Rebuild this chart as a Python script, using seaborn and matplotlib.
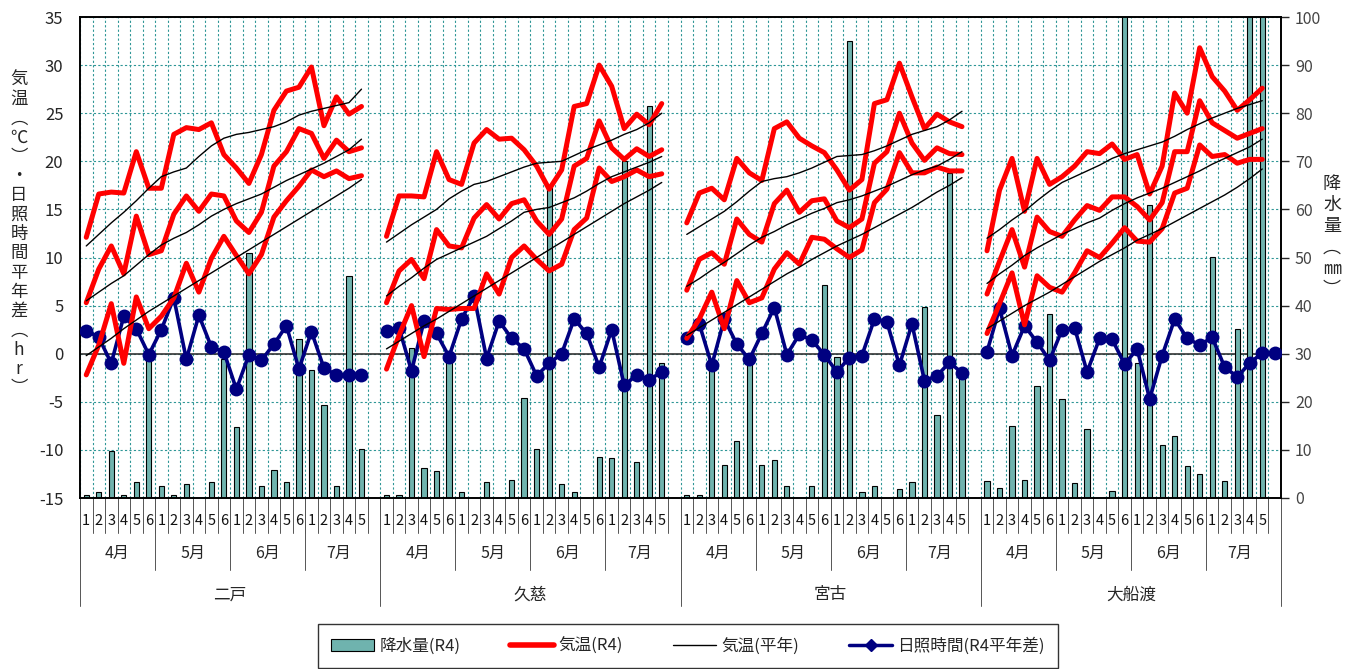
import numpy as np
import pandas as pd
import matplotlib
matplotlib.use("Agg")
import matplotlib.pyplot as plt
import matplotlib.transforms as mtransforms
from matplotlib.lines import Line2D
from matplotlib.patches import Patch
import seaborn as sns

# ============================================================
# DATA
# ============================================================

stations = ["二戸", "久慈", "宮古", "大船渡"]
months = ["4月", "5月", "6月", "7月"]
pentad_labels = ["1", "2", "3", "4", "5", "6"] * 3 + ["1", "2", "3", "4", "5"]

# 二戸
ninohe_max = [12.1, 16.6, 16.8, 16.7, 21.0, 17.2, 17.2, 22.8, 23.5, 23.3, 24.0, 20.7,
              19.3, 17.7, 20.7, 25.3, 27.3, 27.7, 29.8, 23.7, 26.7, 24.9, 25.7]
ninohe_mean = [5.3, 8.8, 11.2, 8.3, 14.3, 10.3, 10.7, 14.5, 16.4, 14.8, 16.6, 16.4,
               13.8, 12.6, 14.7, 19.5, 21.0, 23.4, 22.9, 20.3, 22.2, 21.0, 21.4]
ninohe_min = [-2.2, 0.9, 5.2, -1.0, 5.9, 2.6, 3.9, 5.8, 9.4, 6.4, 9.9, 12.2,
              10.2, 8.3, 10.3, 14.2, 15.9, 17.4, 19.1, 18.4, 19.0, 18.2, 18.5]
ninohe_nmax = [11.2, 12.4, 13.6, 14.7, 15.9, 17.2, 18.4, 18.9, 19.3, 20.5, 21.6, 22.4,
               22.8, 23.0, 23.3, 23.6, 24.1, 24.8, 25.2, 25.5, 25.8, 26.1, 27.5]
ninohe_nmean = [5.5, 6.4, 7.3, 8.1, 9.2, 10.3, 11.3, 12.0, 12.6, 13.4, 14.3, 15.0,
                15.6, 16.1, 16.6, 17.3, 18.0, 18.6, 19.2, 19.8, 20.5, 21.2, 22.3]
ninohe_nmin = [-0.2, 0.7, 1.6, 2.6, 3.5, 4.4, 5.2, 6.0, 6.8, 7.6, 8.4, 9.2,
               10.0, 10.8, 11.6, 12.4, 13.2, 14.0, 14.8, 15.6, 16.4, 17.2, 18.1]
ninohe_sun = [2.4, 1.7, -1.0, 3.9, 2.6, -0.1, 2.5, 5.8, -0.6, 4.0, 0.7, 0.2,
              -3.7, -0.1, -0.7, 1.0, 2.9, -1.6, 2.3, -1.5, -2.2, -2.2, -2.2]
ninohe_rain = [0.7, 1.2, 9.7, 0.7, 3.4, 30.0, 2.4, 0.7, 2.9, 0.0, 3.4, 29.0,
               14.8, 51.0, 2.4, 5.8, 3.4, 33.0, 26.6, 19.4, 2.4, 46.2, 10.2]

# 久慈
kuji_max = [12.2, 16.4, 16.4, 16.3, 21.0, 18.1, 17.6, 21.9, 23.3, 22.3, 22.4, 21.2,
            19.5, 17.1, 19.1, 25.7, 26.0, 30.0, 27.8, 23.4, 24.9, 23.8, 26.0]
kuji_mean = [5.3, 8.6, 9.8, 7.8, 12.9, 11.2, 11.0, 14.1, 15.5, 14.0, 15.6, 16.0,
             13.8, 12.4, 14.0, 19.5, 20.3, 24.2, 21.4, 20.2, 21.3, 20.5, 21.2]
kuji_min = [-1.6, 1.9, 5.0, -0.3, 4.7, 4.6, 4.7, 4.7, 8.3, 6.2, 10.0, 11.2,
            9.8, 8.6, 9.3, 12.9, 14.1, 19.3, 17.9, 18.4, 19.1, 18.4, 18.7]
kuji_nmax = [11.6, 12.5, 13.4, 14.2, 15.0, 16.1, 16.9, 17.6, 17.9, 18.4, 18.9, 19.4,
             19.8, 19.9, 20.0, 20.6, 21.2, 21.7, 22.2, 22.8, 23.3, 24.0, 25.0]
kuji_nmean = [6.0, 7.0, 7.9, 8.9, 9.8, 10.4, 11.0, 11.6, 12.2, 13.0, 13.8, 14.7,
              15.0, 15.2, 15.7, 16.2, 16.9, 17.7, 18.4, 18.9, 19.4, 19.9, 20.5]
kuji_nmin = [0.5, 1.3, 2.1, 2.9, 3.6, 4.4, 5.2, 6.0, 6.8, 7.6, 8.4, 9.2,
             10.0, 10.8, 11.6, 12.4, 13.2, 14.0, 14.8, 15.6, 16.3, 17.0, 17.8]
kuji_sun = [2.4, 2.7, -1.8, 3.4, 2.1, -0.3, 3.6, 6.0, -0.5, 3.4, 1.6, 0.5,
            -2.3, -1.0, 0.0, 3.6, 2.1, -1.4, 2.5, -3.3, -2.2, -2.7, -1.9]
kuji_rain = [0.7, 0.7, 31.2, 6.3, 5.7, 30.0, 1.2, 0.0, 3.4, 0.0, 3.8, 20.7,
             10.2, 65.0, 2.9, 1.2, 0.0, 8.6, 8.3, 70.0, 7.5, 81.4, 28.0]

# 宮古
miyako_max = [13.6, 16.7, 17.2, 16.0, 20.3, 18.8, 18.0, 23.4, 24.1, 22.4, 21.6, 20.9,
              19.1, 17.0, 18.1, 26.0, 26.4, 30.2, 26.7, 23.4, 24.9, 24.1, 23.6]
miyako_mean = [6.6, 9.8, 10.5, 9.3, 14.0, 12.4, 11.6, 15.6, 17.0, 14.7, 15.9, 16.1,
               13.8, 13.1, 14.0, 19.8, 21.0, 25.0, 21.9, 20.1, 21.4, 20.8, 20.7]
miyako_min = [1.6, 3.6, 6.4, 2.6, 7.6, 5.3, 5.8, 8.8, 10.5, 9.3, 12.1, 11.9,
              10.9, 10.0, 10.8, 15.7, 17.1, 20.9, 18.8, 18.8, 19.4, 19.0, 19.0]
miyako_nmax = [12.4, 13.2, 14.0, 14.8, 15.8, 16.9, 17.9, 18.2, 18.4, 18.8, 19.3, 19.9,
               20.5, 20.6, 20.7, 21.1, 21.6, 22.2, 22.8, 23.2, 23.6, 24.3, 25.2]
miyako_nmean = [7.0, 7.8, 8.7, 9.5, 10.4, 11.3, 12.1, 12.7, 13.4, 14.0, 14.6, 15.1,
                15.7, 16.0, 16.4, 16.9, 17.4, 18.0, 18.6, 19.1, 19.5, 20.2, 21.0]
miyako_nmin = [1.9, 2.7, 3.5, 4.3, 5.1, 5.9, 6.7, 7.5, 8.3, 9.0, 9.8, 10.5,
               11.2, 11.8, 12.4, 13.1, 13.8, 14.5, 15.2, 16.0, 16.8, 17.5, 18.3]
miyako_sun = [1.6, 3.1, -1.2, 3.6, 1.0, -0.6, 2.1, 4.8, -0.1, 2.0, 1.4, -0.1,
              -1.9, -0.4, -0.2, 3.6, 3.3, -1.2, 3.1, -2.8, -2.3, -0.9, -2.0]
miyako_rain = [0.7, 0.7, 28.0, 6.9, 11.8, 28.6, 6.9, 7.8, 2.4, 0.0, 2.4, 44.3,
               29.3, 95.0, 1.2, 2.4, 0.0, 1.9, 3.4, 39.7, 17.2, 67.6, 25.5]

# 大船渡 (sunshine has one extra point at the end, as in the source chart)
ofunato_max = [10.7, 17.0, 20.3, 14.8, 20.3, 17.6, 18.4, 19.5, 21.0, 20.8, 21.8, 20.2,
               20.7, 16.6, 19.5, 27.1, 25.0, 31.8, 28.8, 27.3, 25.3, 26.4, 27.6]
ofunato_mean = [6.2, 9.6, 12.9, 9.0, 14.2, 12.7, 12.2, 13.9, 15.4, 14.9, 16.3, 16.3,
                15.3, 13.9, 15.7, 21.0, 21.0, 26.3, 24.0, 23.2, 22.4, 22.9, 23.4]
ofunato_min = [2.1, 5.2, 8.4, 3.0, 8.1, 6.9, 6.4, 8.4, 10.7, 10.0, 11.5, 13.1,
               11.7, 11.6, 13.0, 16.7, 17.2, 21.7, 20.5, 20.7, 19.8, 20.2, 20.2]
ofunato_nmax = [12.0, 12.9, 13.9, 14.8, 15.9, 16.9, 17.8, 18.4, 19.0, 19.6, 20.3, 20.8,
                21.2, 21.6, 22.0, 22.6, 23.3, 23.9, 24.5, 25.0, 25.5, 25.9, 26.3]
ofunato_nmean = [7.3, 8.3, 9.2, 10.2, 11.0, 11.7, 12.4, 13.0, 13.6, 14.1, 14.9, 15.6,
                 16.2, 16.7, 17.2, 17.8, 18.4, 19.0, 19.7, 20.3, 20.9, 21.5, 22.3]
ofunato_nmin = [2.6, 3.4, 4.2, 5.0, 5.7, 6.4, 7.2, 8.0, 8.8, 9.6, 10.3, 11.0,
                11.8, 12.4, 13.0, 13.7, 14.4, 15.1, 15.8, 16.5, 17.3, 18.2, 19.2]
ofunato_sun = [0.2, 4.7, -0.2, 2.9, 1.2, -0.7, 2.5, 2.7, -1.9, 1.6, 1.5, -1.1,
               0.5, -4.7, -0.2, 3.6, 1.6, 0.9, 1.7, -1.4, -2.4, -1.0, 0.1, 0.1]
ofunato_rain = [3.5, 2.1, 14.9, 3.8, 23.3, 38.2, 20.5, 3.1, 14.4, 0.0, 1.4, 120.0,
                28.0, 61.0, 11.1, 12.8, 6.6, 4.9, 50.2, 3.5, 35.1, 120.0, 120.0]

temp_max = [ninohe_max, kuji_max, miyako_max, ofunato_max]
temp_mean = [ninohe_mean, kuji_mean, miyako_mean, ofunato_mean]
temp_min = [ninohe_min, kuji_min, miyako_min, ofunato_min]
norm_max = [ninohe_nmax, kuji_nmax, miyako_nmax, ofunato_nmax]
norm_mean = [ninohe_nmean, kuji_nmean, miyako_nmean, ofunato_nmean]
norm_min = [ninohe_nmin, kuji_nmin, miyako_nmin, ofunato_nmin]
sunshine = [ninohe_sun, kuji_sun, miyako_sun, ofunato_sun]
rain = [ninohe_rain, kuji_rain, miyako_rain, ofunato_rain]

SLOT = 24  # 23 pentads + 1 empty column per station

# ============================================================
# SETUP
# ============================================================

sns.set_theme(style="white")
plt.rcParams["font.family"] = ["Noto Sans CJK JP", "DejaVu Sans"]
plt.rcParams["axes.unicode_minus"] = False

W, H = 1357, 669
RED = "#FF0000"
NAVY = "#000080"
BAR = "#6FB3AE"
GRID = "#2E9696"

fig = plt.figure(figsize=(W / 100, H / 100), dpi=100)
ax = fig.add_axes([80 / W, 1 - 498 / H, 1201 / W, 481 / H])   # precipitation (right)
ax2 = ax.twinx()                                               # temperature (left)

# ============================================================
# BARS
# ============================================================

bar_rows = []
for s in range(len(stations)):
    for p, v in enumerate(rain[s]):
        if v > 0:
            bar_rows.append({"pos": s * SLOT + p, "precip": v})
bar_df = pd.DataFrame(bar_rows)

sns.barplot(data=bar_df, x="pos", y="precip", native_scale=True, width=0.42,
            color=BAR, saturation=1, edgecolor="black", linewidth=0.8,
            errorbar=None, ax=ax, zorder=2)

# ============================================================
# LINES
# ============================================================

for s in range(len(stations)):
    xs = np.arange(23) + s * SLOT
    xsun = np.arange(len(sunshine[s])) + s * SLOT
    sns.lineplot(x=xsun, y=sunshine[s], ax=ax2, color=NAVY, linewidth=2.6,
                 marker="o", markersize=10, markeredgewidth=0, sort=False,
                 estimator=None, legend=False, zorder=3)
    for series in (temp_max, temp_mean, temp_min):
        sns.lineplot(x=xs, y=series[s], ax=ax2, color=RED, linewidth=3.6,
                     sort=False, estimator=None, legend=False, zorder=4,
                     solid_joinstyle="round")
    for series in (norm_max, norm_mean, norm_min):
        sns.lineplot(x=xs, y=series[s], ax=ax2, color="black", linewidth=1.0,
                     sort=False, estimator=None, legend=False, zorder=5)

# ============================================================
# AXES
# ============================================================

ax.set_xlim(-0.5, SLOT * 4 - 0.5)
ax.set_ylim(0, 100)
ax2.set_ylim(-15, 35)

ax.set_xticks(np.arange(-0.5, SLOT * 4, 1.0))
ax.set_yticks(np.arange(0, 101, 10))
ax.grid(True, color=GRID, linestyle=(0, (2, 2)), linewidth=0.8)
ax.set_axisbelow(True)
ax.axhline(30, color="#333333", linewidth=1.2, zorder=1.5)

ax.yaxis.tick_right()
ax.tick_params(axis="x", bottom=False, labelbottom=False)
ax.tick_params(axis="y", right=True, left=False, direction="out", length=6,
               width=1, pad=4, labelsize=11.5, labelcolor="#444444")
ax.set_xlabel("")
ax.set_ylabel("")

ax2.yaxis.tick_left()
ax2.set_yticks(np.arange(-15, 36, 5))
ax2.tick_params(axis="y", left=False, right=False, labelleft=True,
                labelright=False, pad=6, labelsize=12)
ax2.set_xlabel("")
ax2.set_ylabel("")

for a in (ax, ax2):
    for sp in a.spines.values():
        sp.set_color("black")
        sp.set_linewidth(1.2)

# ============================================================
# CATEGORY LABELS BELOW THE AXIS
# ============================================================

trans = mtransforms.blended_transform_factory(ax.transData, fig.transFigure)


def fy(ypix):
    return 1 - ypix / H


for s, name in enumerate(stations):
    base = s * SLOT
    for p, lab in enumerate(pentad_labels):
        ax.text(base + p, fy(521), lab, transform=trans, ha="center", va="center",
                fontsize=10.5, color="#111111")
    for b in range(SLOT):
        ax.plot([base + b - 0.5] * 2, [fy(498), fy(533)], transform=trans,
                color="#555555", lw=0.7, clip_on=False)
    starts = [0, 6, 12, 18]
    ends = [6, 12, 18, SLOT]
    for m in range(4):
        ax.text(base + (starts[m] + ends[m]) / 2 - 0.5 - (0.3 if m == 3 else 0),
                fy(553), months[m], transform=trans, ha="center", va="center",
                fontsize=11.5)
        ax.plot([base + starts[m] - 0.5] * 2, [fy(498), fy(570)], transform=trans,
                color="#555555", lw=0.7, clip_on=False)
    ax.text(base + SLOT / 2 - 0.5, fy(595), name, transform=trans, ha="center",
            va="center", fontsize=12)

for s in range(len(stations) + 1):
    ax.plot([s * SLOT - 0.5] * 2, [fy(498), fy(606)], transform=trans,
            color="#555555", lw=0.7, clip_on=False)

# ============================================================
# AXIS TITLES (vertical, stacked characters)
# ============================================================

left_title = "\n".join(list("気温") + ["︵", "℃", "︶", "・"] + list("日照時間平年差")
                       + ["︵", "h", "r", "︶"])
fig.text(19 / W, fy(234), left_title, ha="center", va="center", fontsize=12.5,
         linespacing=1.09)

right_title = "\n".join(list("降水量") + ["︵", "㎜", "︶"])
fig.text(1332 / W, fy(237), right_title, ha="center", va="center", fontsize=13,
         linespacing=1.22)

# ============================================================
# LEGEND
# ============================================================

handles = [
    Patch(facecolor=BAR, edgecolor="black", linewidth=0.8, label="降水量(R4)"),
    Line2D([], [], color=RED, linewidth=4, label="気温(R4)"),
    Line2D([], [], color="black", linewidth=1.0, label="気温(平年)"),
    Line2D([], [], color=NAVY, linewidth=2.5, marker="D", markersize=6,
           label="日照時間(R4平年差)"),
]
leg = fig.legend(handles=handles, loc="center", bbox_to_anchor=(688 / W, fy(646)),
                 ncol=4, frameon=True, fancybox=False, fontsize=12,
                 handlelength=2.6, handleheight=0.8, columnspacing=3.0,
                 handletextpad=0.3, borderpad=0.8, borderaxespad=0)
leg.get_frame().set_edgecolor("black")
leg.get_frame().set_linewidth(1.0)

plt.savefig("out.png", dpi=100)
plt.close()
